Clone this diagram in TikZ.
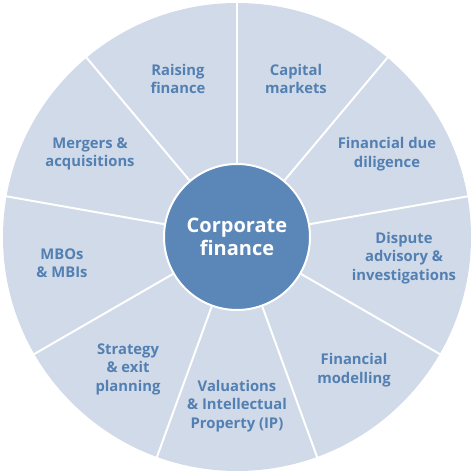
\documentclass[tikz,border=0pt]{standalone}
\usepackage{fontspec}
\setsansfont{Open Sans}
\definecolor{wheelbg}{HTML}{D1DAE8}
\definecolor{hubblue}{HTML}{5A87B7}
\definecolor{topicblue}{HTML}{5380B2}

\begin{document}
\begin{tikzpicture}[
  x=1pt,y=1pt,
  font=\sffamily\bfseries,
  wheel/.style={fill=wheelbg},
  spoke/.style={draw=white,line width=2pt},
  hub/.style={circle,fill=hubblue,draw=white,line width=2pt,minimum size=146pt,
    text=white,font=\sffamily\bfseries\fontsize{20}{23.5}\selectfont},
  topic/.style={text=topicblue,font=\sffamily\bfseries\fontsize{14.8}{18.5}\selectfont},
  every node/.style={align=center}]

  \useasboundingbox (0,0) rectangle (474,474);

  % The wheel and its nine spokes
  \coordinate (c) at (237,237);
  \fill[wheel] (c) circle (234);
  \foreach \a in {90,50,10,-30,-70,-110,-150,170,130}
    \draw[spoke] (c) -- ([shift={(\a:240)}]c);

  % Hub in the middle
  \node[hub] (hub) at (c) {Corporate\\finance};

  % One label per sector
  \node[topic] (raising)   at (178,395) {Raising\\finance};
  \node[topic] (capital)   at (296,395) {Capital\\markets};
  \node[topic] (diligence) at (387,320) {Financial due\\diligence};
  \node[topic] (dispute)   at (404,216) {Dispute\\advisory \&\\investigations};
  \node[topic] (modelling) at (354,104) {Financial\\modelling};
  \node[topic] (valuation) at (237,68)  {Valuations\\\& Intellectual\\Property (IP)};
  \node[topic] (strategy)  at (128,105) {Strategy\\\& exit\\planning};
  \node[topic] (mbos)      at (62,211)  {MBOs\\\& MBIs};
  \node[topic] (mergers)   at (90,320)  {Mergers \&\\acquisitions};

\end{tikzpicture}
\end{document}
